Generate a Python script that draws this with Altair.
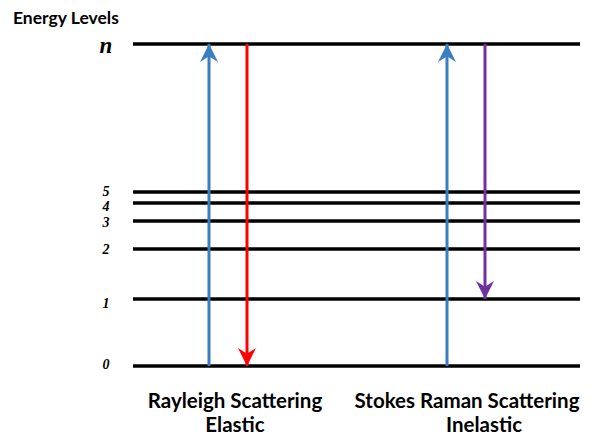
import altair as alt
import pandas as pd

# Energy levels (schematic energies)
levels = ["0", "1", "2", "3", "4", "5", "n"]
energies = [0, 67, 117, 145, 163, 174, 322]
label_energies = [1, 62, 116, 143, 159, 174, 320]
level_font = [14, 14, 14, 14, 14, 14, 23]

# Transitions
arrow_x = [209, 247, 447, 485]
arrow_from = ["0", "n", "0", "n"]
arrow_to = ["n", "0", "n", "1"]
arrow_colors = ["#3A7DC1", "#FF0000", "#3A7DC1", "#7030A0"]

# Captions
caption_text = ["Rayleigh Scattering", "Elastic", "Stokes Raman Scattering", "Inelastic"]
caption_x = [235, 235, 467, 484]
caption_e = [-36, -60, -36, -60]

E = dict(zip(levels, energies))

lev_df = pd.DataFrame({
    "level": levels,
    "E": energies,
    "LE": label_energies,
    "x0": [133] * len(levels),
    "x1": [580] * len(levels),
    "lx": [106] * len(levels),
    "fs": level_font,
})

arr_df = pd.DataFrame({
    "x": arrow_x,
    "E_from": [E[l] for l in arrow_from],
    "E_to": [E[l] for l in arrow_to],
    "color": arrow_colors,
})
arr_df["up"] = arr_df["E_to"] > arr_df["E_from"]

cap_df = pd.DataFrame({"text": caption_text, "x": caption_x, "E": caption_e})
title_df = pd.DataFrame({"text": ["Energy Levels"], "x": [13], "E": [347]})

xs = alt.Scale(domain=[8, 587])
ys = alt.Scale(domain=[-70, 358])
X = lambda f: alt.X(f, type="quantitative", scale=xs, axis=None)
Y = lambda f: alt.Y(f, type="quantitative", scale=ys, axis=None)

lines = alt.Chart(lev_df).mark_rule(color="black", strokeWidth=3.5).encode(
    x=X("x0"), x2="x1", y=Y("E")
)

labels = alt.Chart(lev_df).mark_text(
    font="Liberation Serif", fontWeight="bold", fontStyle="italic",
    align="center", baseline="middle", color="black"
).encode(x=X("lx"), y=Y("LE"), text="level:N", size=alt.Size("fs:Q", scale=None))

shafts = alt.Chart(arr_df).mark_rule(strokeWidth=3).encode(
    x=X("x"), y=Y("E_from"), y2="E_to", color=alt.Color("color:N", scale=None)
)

up_path = "M0,-1 L1,1 L0,0.35 L-1,1 Z"
down_path = "M0,1 L1,-1 L0,-0.35 L-1,-1 Z"

heads_up = alt.Chart(arr_df).transform_filter("datum.up").mark_point(
    shape=up_path, size=324, filled=True, opacity=1, yOffset=9, strokeWidth=0
).encode(x=X("x"), y=Y("E_to"), color=alt.Color("color:N", scale=None))

heads_down = alt.Chart(arr_df).transform_filter("!datum.up").mark_point(
    shape=down_path, size=324, filled=True, opacity=1, yOffset=-9, strokeWidth=0
).encode(x=X("x"), y=Y("E_to"), color=alt.Color("color:N", scale=None))

captions = alt.Chart(cap_df).mark_text(
    font="Lato", fontWeight="bold", fontSize=20.5, align="center",
    baseline="middle", color="black"
).encode(x=X("x"), y=Y("E"), text="text:N")

title = alt.Chart(title_df).mark_text(
    font="Lato", fontWeight="bold", fontSize=17.5, align="left",
    baseline="middle", color="black"
).encode(x=X("x"), y=Y("E"), text="text:N")

chart = alt.layer(lines, labels, shafts, heads_up, heads_down, captions, title).properties(
    width=579, height=428, padding=0, autosize="none", background="white"
).configure_view(stroke=None)

chart.save("out.html", embed_options={"renderer": "svg", "actions": False})
